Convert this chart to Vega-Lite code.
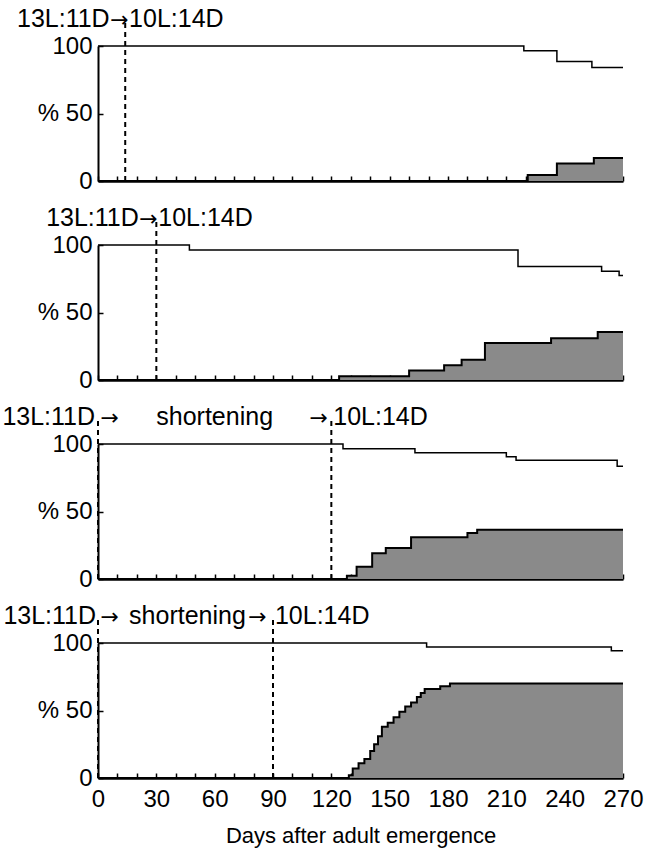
{
  "$schema": "https://vega.github.io/schema/vega-lite/v6.json",
  "padding": {"left": 2, "top": 7, "right": 8, "bottom": 4},
  "bounds": "flush",
  "spacing": 64,
  "config": {
    "view": {"stroke": null},
    "font": "Liberation Sans",
    "axis": {"domainColor": "black", "domainWidth": 2, "tickColor": "black", "tickWidth": 1.5, "labelColor": "black", "labelFont": "Liberation Sans", "labelFontSize": 24, "labelOverlap": false, "labelFlush": false, "grid": false, "titleFont": "Liberation Sans", "titleColor": "black", "titleFontWeight": "normal"},
    "text": {"font": "Liberation Sans", "fontSize": 25, "color": "black"}
  },
  "datasets": {
    "curves": [
      {"panel": "A", "series": "survival", "day": 0, "pct": 100},
      {"panel": "A", "series": "survival", "day": 219, "pct": 96.5},
      {"panel": "A", "series": "survival", "day": 236, "pct": 88.5},
      {"panel": "A", "series": "survival", "day": 254, "pct": 84},
      {"panel": "A", "series": "survival", "day": 270, "pct": 84},
      {"panel": "A", "series": "response", "day": 0, "pct": 0},
      {"panel": "A", "series": "response", "day": 221, "pct": 4.5},
      {"panel": "A", "series": "response", "day": 236, "pct": 13},
      {"panel": "A", "series": "response", "day": 255, "pct": 17},
      {"panel": "A", "series": "response", "day": 270, "pct": 17},
      {"panel": "B", "series": "survival", "day": 0, "pct": 100},
      {"panel": "B", "series": "survival", "day": 47, "pct": 96.3},
      {"panel": "B", "series": "survival", "day": 216, "pct": 84},
      {"panel": "B", "series": "survival", "day": 259, "pct": 80.5},
      {"panel": "B", "series": "survival", "day": 268, "pct": 77.5},
      {"panel": "B", "series": "survival", "day": 270, "pct": 77.5},
      {"panel": "B", "series": "response", "day": 0, "pct": 0},
      {"panel": "B", "series": "response", "day": 124, "pct": 2.7},
      {"panel": "B", "series": "response", "day": 160, "pct": 7},
      {"panel": "B", "series": "response", "day": 178, "pct": 11},
      {"panel": "B", "series": "response", "day": 187, "pct": 15},
      {"panel": "B", "series": "response", "day": 199, "pct": 27.5},
      {"panel": "B", "series": "response", "day": 233, "pct": 31},
      {"panel": "B", "series": "response", "day": 257, "pct": 35.5},
      {"panel": "B", "series": "response", "day": 270, "pct": 35.5},
      {"panel": "C", "series": "survival", "day": 0, "pct": 100},
      {"panel": "C", "series": "survival", "day": 126, "pct": 96.5},
      {"panel": "C", "series": "survival", "day": 163, "pct": 93.5},
      {"panel": "C", "series": "survival", "day": 210, "pct": 90.5},
      {"panel": "C", "series": "survival", "day": 215, "pct": 88},
      {"panel": "C", "series": "survival", "day": 267, "pct": 83.5},
      {"panel": "C", "series": "survival", "day": 270, "pct": 83.5},
      {"panel": "C", "series": "response", "day": 0, "pct": 0},
      {"panel": "C", "series": "response", "day": 128, "pct": 2.5},
      {"panel": "C", "series": "response", "day": 133, "pct": 9},
      {"panel": "C", "series": "response", "day": 141, "pct": 19},
      {"panel": "C", "series": "response", "day": 148, "pct": 23},
      {"panel": "C", "series": "response", "day": 161, "pct": 31},
      {"panel": "C", "series": "response", "day": 190, "pct": 34},
      {"panel": "C", "series": "response", "day": 195, "pct": 36.5},
      {"panel": "C", "series": "response", "day": 270, "pct": 36.5},
      {"panel": "D", "series": "survival", "day": 0, "pct": 100},
      {"panel": "D", "series": "survival", "day": 169, "pct": 97},
      {"panel": "D", "series": "survival", "day": 264, "pct": 94.2},
      {"panel": "D", "series": "survival", "day": 270, "pct": 94.2},
      {"panel": "D", "series": "response", "day": 0, "pct": 0},
      {"panel": "D", "series": "response", "day": 129, "pct": 2},
      {"panel": "D", "series": "response", "day": 131, "pct": 7},
      {"panel": "D", "series": "response", "day": 134, "pct": 11},
      {"panel": "D", "series": "response", "day": 137, "pct": 14},
      {"panel": "D", "series": "response", "day": 140, "pct": 20},
      {"panel": "D", "series": "response", "day": 142, "pct": 25},
      {"panel": "D", "series": "response", "day": 144, "pct": 31},
      {"panel": "D", "series": "response", "day": 146, "pct": 38},
      {"panel": "D", "series": "response", "day": 149, "pct": 41},
      {"panel": "D", "series": "response", "day": 152, "pct": 45},
      {"panel": "D", "series": "response", "day": 155, "pct": 49},
      {"panel": "D", "series": "response", "day": 158, "pct": 53},
      {"panel": "D", "series": "response", "day": 161, "pct": 56},
      {"panel": "D", "series": "response", "day": 164, "pct": 60},
      {"panel": "D", "series": "response", "day": 166, "pct": 63},
      {"panel": "D", "series": "response", "day": 168, "pct": 66},
      {"panel": "D", "series": "response", "day": 176, "pct": 68},
      {"panel": "D", "series": "response", "day": 181, "pct": 70},
      {"panel": "D", "series": "response", "day": 270, "pct": 70}
    ],
    "events": [
      {"panel": "A", "day": 14},
      {"panel": "B", "day": 30},
      {"panel": "C", "day": 0},
      {"panel": "C", "day": 120},
      {"panel": "D", "day": 0},
      {"panel": "D", "day": 90}
    ],
    "notes": [
      {"panel": "A", "role": "from", "text": "13L:11D", "day": 6},
      {"panel": "A", "role": "arrow", "text": "→", "day": 11},
      {"panel": "A", "role": "to", "text": "10L:14D", "day": 16},
      {"panel": "B", "role": "from", "text": "13L:11D", "day": 21},
      {"panel": "B", "role": "arrow", "text": "→", "day": 26},
      {"panel": "B", "role": "to", "text": "10L:14D", "day": 31},
      {"panel": "C", "role": "from", "text": "13L:11D", "day": -1.5},
      {"panel": "C", "role": "arrow", "text": "→", "day": 6},
      {"panel": "C", "role": "middle", "text": "shortening", "day": 60},
      {"panel": "C", "role": "arrow", "text": "→", "day": 113.5},
      {"panel": "C", "role": "to", "text": "10L:14D", "day": 121},
      {"panel": "D", "role": "from", "text": "13L:11D", "day": -1},
      {"panel": "D", "role": "arrow", "text": "→", "day": 6},
      {"panel": "D", "role": "middle", "text": "shortening", "day": 46},
      {"panel": "D", "role": "arrow", "text": "→", "day": 82},
      {"panel": "D", "role": "to", "text": "10L:14D", "day": 91}
    ]
  },
  "vconcat": [
    {
      "width": 525, "height": 135,
      "encoding": {
        "x": {"field": "day", "type": "quantitative", "scale": {"domain": [0, 270], "nice": false, "zero": false},
              "axis": {"title": null, "values": [0,10,20,30,40,50,60,70,80,90,100,110,120,130,140,150,160,170,180,190,200,210,220,230,240,250,260,270], "labels": false, "tickSize": -5, "domainWidth": 2.5}}
      },
      "layer": [
        {"data": {"name": "curves"}, "transform": [{"filter": "datum.panel === 'A' && datum.series === 'response'"}],
         "mark": {"type": "area", "interpolate": "step-after", "fill": "#8a8a8a", "opacity": 1, "line": {"color": "black", "strokeWidth": 2}},
         "encoding": {"y": {"field": "pct", "type": "quantitative", "scale": {"domain": [0, 100]},
              "axis": {"title": null, "values": [0, 50, 100], "tickSize": -5, "labelPadding": 11, "labelExpr": "datum.value == 50 ? '% 50' : datum.label"}}}},
        {"data": {"name": "curves"}, "transform": [{"filter": "datum.panel === 'A' && datum.series === 'survival'"}],
         "mark": {"type": "line", "interpolate": "step-after", "color": "black", "strokeWidth": 1.5},
         "encoding": {"y": {"field": "pct", "type": "quantitative"}}},
        {"data": {"name": "events"}, "transform": [{"filter": "datum.panel === 'A'"}],
         "mark": {"type": "rule", "color": "black", "strokeWidth": 2, "strokeDash": [5, 4]},
         "encoding": {"y": {"datum": 0, "type": "quantitative"}, "y2": {"datum": 117}}},
        {"data": {"name": "notes"}, "transform": [{"filter": "datum.panel === 'A' && datum.role === 'from'"}],
         "mark": {"type": "text", "align": "right", "baseline": "alphabetic"},
         "encoding": {"y": {"datum": 114, "type": "quantitative"}, "text": {"field": "text"}}},
        {"data": {"name": "notes"}, "transform": [{"filter": "datum.panel === 'A' && datum.role === 'to'"}],
         "mark": {"type": "text", "align": "left", "baseline": "alphabetic"},
         "encoding": {"y": {"datum": 114, "type": "quantitative"}, "text": {"field": "text"}}},
        {"data": {"name": "notes"}, "transform": [{"filter": "datum.panel === 'A' && datum.role === 'middle'"}],
         "mark": {"type": "text", "align": "center", "baseline": "alphabetic"},
         "encoding": {"y": {"datum": 114, "type": "quantitative"}, "text": {"field": "text"}}},
        {"data": {"name": "notes"}, "transform": [{"filter": "datum.panel === 'A' && datum.role === 'arrow'"}],
         "mark": {"type": "text", "align": "center", "baseline": "alphabetic", "font": "DejaVu Sans", "fontSize": 22},
         "encoding": {"y": {"datum": 114, "type": "quantitative"}, "text": {"field": "text"}}}
      ]
    },
    {
      "width": 525, "height": 135,
      "encoding": {
        "x": {"field": "day", "type": "quantitative", "scale": {"domain": [0, 270], "nice": false, "zero": false},
              "axis": {"title": null, "values": [0,10,20,30,40,50,60,70,80,90,100,110,120,130,140,150,160,170,180,190,200,210,220,230,240,250,260,270], "labels": false, "tickSize": -5, "domainWidth": 2.5}}
      },
      "layer": [
        {"data": {"name": "curves"}, "transform": [{"filter": "datum.panel === 'B' && datum.series === 'response'"}],
         "mark": {"type": "area", "interpolate": "step-after", "fill": "#8a8a8a", "opacity": 1, "line": {"color": "black", "strokeWidth": 2}},
         "encoding": {"y": {"field": "pct", "type": "quantitative", "scale": {"domain": [0, 100]},
              "axis": {"title": null, "values": [0, 50, 100], "tickSize": -5, "labelPadding": 11, "labelExpr": "datum.value == 50 ? '% 50' : datum.label"}}}},
        {"data": {"name": "curves"}, "transform": [{"filter": "datum.panel === 'B' && datum.series === 'survival'"}],
         "mark": {"type": "line", "interpolate": "step-after", "color": "black", "strokeWidth": 1.5},
         "encoding": {"y": {"field": "pct", "type": "quantitative"}}},
        {"data": {"name": "events"}, "transform": [{"filter": "datum.panel === 'B'"}],
         "mark": {"type": "rule", "color": "black", "strokeWidth": 2, "strokeDash": [5, 4]},
         "encoding": {"y": {"datum": 0, "type": "quantitative"}, "y2": {"datum": 117}}},
        {"data": {"name": "notes"}, "transform": [{"filter": "datum.panel === 'B' && datum.role === 'from'"}],
         "mark": {"type": "text", "align": "right", "baseline": "alphabetic"},
         "encoding": {"y": {"datum": 114, "type": "quantitative"}, "text": {"field": "text"}}},
        {"data": {"name": "notes"}, "transform": [{"filter": "datum.panel === 'B' && datum.role === 'to'"}],
         "mark": {"type": "text", "align": "left", "baseline": "alphabetic"},
         "encoding": {"y": {"datum": 114, "type": "quantitative"}, "text": {"field": "text"}}},
        {"data": {"name": "notes"}, "transform": [{"filter": "datum.panel === 'B' && datum.role === 'middle'"}],
         "mark": {"type": "text", "align": "center", "baseline": "alphabetic"},
         "encoding": {"y": {"datum": 114, "type": "quantitative"}, "text": {"field": "text"}}},
        {"data": {"name": "notes"}, "transform": [{"filter": "datum.panel === 'B' && datum.role === 'arrow'"}],
         "mark": {"type": "text", "align": "center", "baseline": "alphabetic", "font": "DejaVu Sans", "fontSize": 22},
         "encoding": {"y": {"datum": 114, "type": "quantitative"}, "text": {"field": "text"}}}
      ]
    },
    {
      "width": 525, "height": 135,
      "encoding": {
        "x": {"field": "day", "type": "quantitative", "scale": {"domain": [0, 270], "nice": false, "zero": false},
              "axis": {"title": null, "values": [0,10,20,30,40,50,60,70,80,90,100,110,120,130,140,150,160,170,180,190,200,210,220,230,240,250,260,270], "labels": false, "tickSize": -5, "domainWidth": 2.5}}
      },
      "layer": [
        {"data": {"name": "curves"}, "transform": [{"filter": "datum.panel === 'C' && datum.series === 'response'"}],
         "mark": {"type": "area", "interpolate": "step-after", "fill": "#8a8a8a", "opacity": 1, "line": {"color": "black", "strokeWidth": 2}},
         "encoding": {"y": {"field": "pct", "type": "quantitative", "scale": {"domain": [0, 100]},
              "axis": {"title": null, "values": [0, 50, 100], "tickSize": -5, "labelPadding": 11, "labelExpr": "datum.value == 50 ? '% 50' : datum.label"}}}},
        {"data": {"name": "curves"}, "transform": [{"filter": "datum.panel === 'C' && datum.series === 'survival'"}],
         "mark": {"type": "line", "interpolate": "step-after", "color": "black", "strokeWidth": 1.5},
         "encoding": {"y": {"field": "pct", "type": "quantitative"}}},
        {"data": {"name": "events"}, "transform": [{"filter": "datum.panel === 'C'"}],
         "mark": {"type": "rule", "color": "black", "strokeWidth": 2, "strokeDash": [5, 4]},
         "encoding": {"y": {"datum": 0, "type": "quantitative"}, "y2": {"datum": 117}}},
        {"data": {"name": "notes"}, "transform": [{"filter": "datum.panel === 'C' && datum.role === 'from'"}],
         "mark": {"type": "text", "align": "right", "baseline": "alphabetic"},
         "encoding": {"y": {"datum": 114, "type": "quantitative"}, "text": {"field": "text"}}},
        {"data": {"name": "notes"}, "transform": [{"filter": "datum.panel === 'C' && datum.role === 'to'"}],
         "mark": {"type": "text", "align": "left", "baseline": "alphabetic"},
         "encoding": {"y": {"datum": 114, "type": "quantitative"}, "text": {"field": "text"}}},
        {"data": {"name": "notes"}, "transform": [{"filter": "datum.panel === 'C' && datum.role === 'middle'"}],
         "mark": {"type": "text", "align": "center", "baseline": "alphabetic"},
         "encoding": {"y": {"datum": 114, "type": "quantitative"}, "text": {"field": "text"}}},
        {"data": {"name": "notes"}, "transform": [{"filter": "datum.panel === 'C' && datum.role === 'arrow'"}],
         "mark": {"type": "text", "align": "center", "baseline": "alphabetic", "font": "DejaVu Sans", "fontSize": 22},
         "encoding": {"y": {"datum": 114, "type": "quantitative"}, "text": {"field": "text"}}}
      ]
    },
    {
      "width": 525, "height": 135,
      "encoding": {
        "x": {"field": "day", "type": "quantitative", "scale": {"domain": [0, 270], "nice": false, "zero": false},
              "axis": {"title": "Days after adult emergence", "titleFontSize": 22, "titlePadding": 14, "values": [0,10,20,30,40,50,60,70,80,90,100,110,120,130,140,150,160,170,180,190,200,210,220,230,240,250,260,270], "labelExpr": "datum.value % 30 === 0 ? datum.label : ''", "tickSize": -5, "labelPadding": 14, "domainWidth": 2.5}}
      },
      "layer": [
        {"data": {"name": "curves"}, "transform": [{"filter": "datum.panel === 'D' && datum.series === 'response'"}],
         "mark": {"type": "area", "interpolate": "step-after", "fill": "#8a8a8a", "opacity": 1, "line": {"color": "black", "strokeWidth": 2}},
         "encoding": {"y": {"field": "pct", "type": "quantitative", "scale": {"domain": [0, 100]},
              "axis": {"title": null, "values": [0, 50, 100], "tickSize": -5, "labelPadding": 11, "labelExpr": "datum.value == 50 ? '% 50' : datum.label"}}}},
        {"data": {"name": "curves"}, "transform": [{"filter": "datum.panel === 'D' && datum.series === 'survival'"}],
         "mark": {"type": "line", "interpolate": "step-after", "color": "black", "strokeWidth": 1.5},
         "encoding": {"y": {"field": "pct", "type": "quantitative"}}},
        {"data": {"name": "events"}, "transform": [{"filter": "datum.panel === 'D'"}],
         "mark": {"type": "rule", "color": "black", "strokeWidth": 2, "strokeDash": [5, 4]},
         "encoding": {"y": {"datum": 0, "type": "quantitative"}, "y2": {"datum": 117}}},
        {"data": {"name": "notes"}, "transform": [{"filter": "datum.panel === 'D' && datum.role === 'from'"}],
         "mark": {"type": "text", "align": "right", "baseline": "alphabetic"},
         "encoding": {"y": {"datum": 114, "type": "quantitative"}, "text": {"field": "text"}}},
        {"data": {"name": "notes"}, "transform": [{"filter": "datum.panel === 'D' && datum.role === 'to'"}],
         "mark": {"type": "text", "align": "left", "baseline": "alphabetic"},
         "encoding": {"y": {"datum": 114, "type": "quantitative"}, "text": {"field": "text"}}},
        {"data": {"name": "notes"}, "transform": [{"filter": "datum.panel === 'D' && datum.role === 'middle'"}],
         "mark": {"type": "text", "align": "center", "baseline": "alphabetic"},
         "encoding": {"y": {"datum": 114, "type": "quantitative"}, "text": {"field": "text"}}},
        {"data": {"name": "notes"}, "transform": [{"filter": "datum.panel === 'D' && datum.role === 'arrow'"}],
         "mark": {"type": "text", "align": "center", "baseline": "alphabetic", "font": "DejaVu Sans", "fontSize": 22},
         "encoding": {"y": {"datum": 114, "type": "quantitative"}, "text": {"field": "text"}}}
      ]
    }
  ]
}
